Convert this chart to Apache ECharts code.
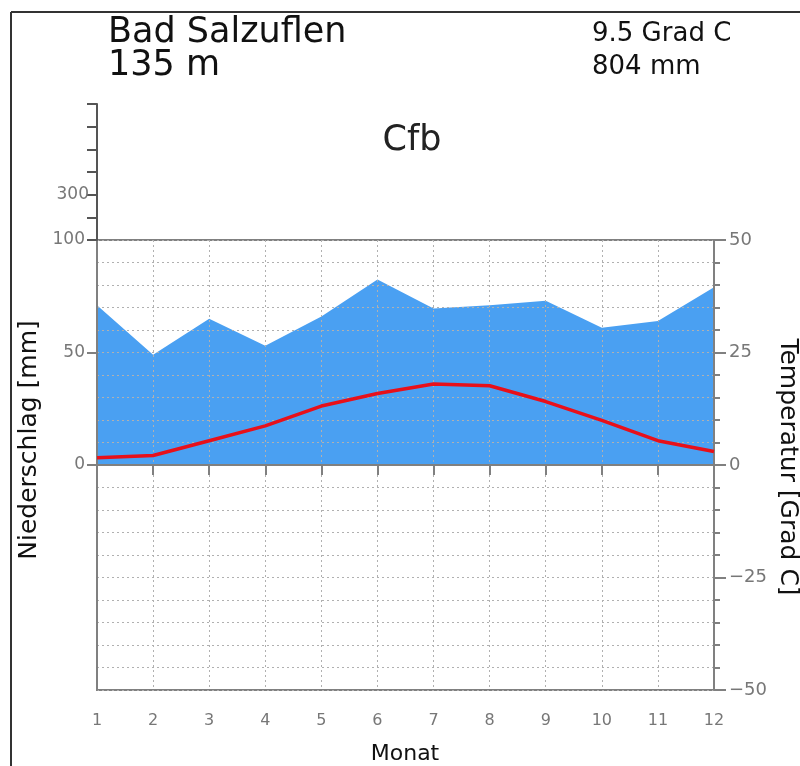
<!DOCTYPE html>
<html><head><meta charset="utf-8">
<script src="https://cdn.jsdelivr.net/npm/echarts@6/dist/echarts.min.js"></script>
<style>html,body{margin:0;padding:0;background:#fff;}#c{width:800px;height:766px;}</style>
</head><body><div id="c"></div>
<script>
const months = [1,2,3,4,5,6,7,8,9,10,11,12];
const precipitation = [71, 49, 65, 53, 66, 82.5, 69.6, 71, 73, 61, 64, 79];
const temperature = [1.6, 2.1, 5.4, 8.7, 13.1, 15.9, 18.0, 17.6, 14.1, 9.9, 5.4, 3.0];
const stationName = 'Bad Salzuflen';
const stationHeight = '135 m';
const meanTemp = '9.5 Grad C';
const totalPrecip = '804 mm';
const climateClass = 'Cfb';
const upperPrecipLabels = [300];

const FONT = '"DejaVu Sans", sans-serif';
const AX = '#808080';
const GRID = '#b0b0b0';

const chart = echarts.init(document.getElementById('c'));
const dotted = {show:true, lineStyle:{color:GRID, type:[2,3], width:1}};

chart.setOption({
  animation:false,
  grid:[
    {left:97, right:86, top:240, bottom:76, show:true, borderColor:AX, borderWidth:2, z:3},
    {left:97, width:617, top:240, height:225, show:false},
    {left:97, width:617, top:104, height:136, show:false}
  ],
  xAxis:[
    {gridIndex:0, type:'value', min:1, max:12, interval:1, z:3,
     axisLine:{show:true, lineStyle:{color:AX, width:2}},
     axisTick:{show:true, length:10, lineStyle:{color:AX, width:2}},
     axisLabel:{color:'#777', fontSize:16, fontFamily:FONT, margin:23},
     splitLine:dotted},
    {gridIndex:1, type:'value', min:1, max:12, show:false},
    {gridIndex:2, type:'value', min:1, max:12, show:false}
  ],
  yAxis:[
    {gridIndex:0, type:'value', min:-100, max:100, interval:50, position:'left', z:3,
     axisLine:{show:true, lineStyle:{color:AX, width:2}},
     axisTick:{show:false}, axisLabel:{show:false}, splitLine:{show:false}},
    {gridIndex:0, type:'value', min:-50, max:50, interval:25, position:'right', z:3,
     axisLine:{show:true, lineStyle:{color:AX, width:2}},
     axisTick:{show:true, inside:false, length:12, lineStyle:{color:AX, width:2}},
     minorTick:{show:true, splitNumber:5, length:6, lineStyle:{color:AX, width:2}},
     axisLabel:{color:'#777', fontSize:18, fontFamily:FONT, margin:15,
       formatter:v=>String(v).replace('-','\u2212')},
     splitLine:dotted,
     minorSplitLine:dotted},
    {gridIndex:1, type:'value', min:0, max:100, interval:50, position:'left', z:4,
     axisLine:{show:true, lineStyle:{color:AX, width:2}},
     axisTick:{show:true, length:10, lineStyle:{color:AX, width:2}},
     axisLabel:{color:'#777', fontSize:17, fontFamily:FONT, margin:12},
     splitLine:{show:false}},
    {gridIndex:2, type:'value', min:100, max:700, interval:100, position:'left', z:4,
     axisLine:{show:true, lineStyle:{color:'#555', width:2}},
     axisTick:{show:true, length:10, lineStyle:{color:'#555', width:2}},
     axisLabel:{color:'#777', fontSize:17, fontFamily:FONT, margin:8,
       formatter:v=>upperPrecipLabels.includes(v)?String(v):''},
     splitLine:{show:false}}
  ],
  series:[
    {type:'line', xAxisIndex:0, yAxisIndex:0, z:1,
     data:months.map((m,i)=>[m, precipitation[i]]),
     showSymbol:false, symbol:'none',
     lineStyle:{width:0},
     areaStyle:{color:'#4aa0f2', opacity:1}},
    {type:'line', xAxisIndex:0, yAxisIndex:1, z:6,
     data:months.map((m,i)=>[m, temperature[i]]),
     showSymbol:false, symbol:'none',
     lineStyle:{color:'#e8101a', width:3.5}}
  ],
  graphic:[
    {type:'line', shape:{x1:11, y1:12, x2:800, y2:12}, style:{stroke:'#333', lineWidth:2}},
    {type:'line', shape:{x1:11, y1:12, x2:11, y2:766}, style:{stroke:'#333', lineWidth:2}},
    {type:'text', x:108, y:33, style:{text:stationName, font:'35px '+FONT, fill:'#111', verticalAlign:'middle'}},
    {type:'text', x:108, y:66, style:{text:stationHeight, font:'35px '+FONT, fill:'#111', verticalAlign:'middle'}},
    {type:'text', x:592, y:34, style:{text:meanTemp, font:'26px '+FONT, fill:'#111', verticalAlign:'middle'}},
    {type:'text', x:592, y:67, style:{text:totalPrecip, font:'26px '+FONT, fill:'#111', verticalAlign:'middle'}},
    {type:'text', x:412, y:141, style:{text:climateClass, font:'35px '+FONT, fill:'#222', align:'center', verticalAlign:'middle'}},
    {type:'text', x:405, y:754, style:{text:'Monat', font:'22px '+FONT, fill:'#111', align:'center', verticalAlign:'middle'}},
    {type:'text', x:29, y:440, rotation:Math.PI/2, style:{text:'Niederschlag [mm]', font:'25px '+FONT, fill:'#111', align:'center', verticalAlign:'middle'}},
    {type:'text', x:787, y:467, rotation:-Math.PI/2, style:{text:'Temperatur [Grad C]', font:'25px '+FONT, fill:'#111', align:'center', verticalAlign:'middle'}}
  ]
});
</script></body></html>
